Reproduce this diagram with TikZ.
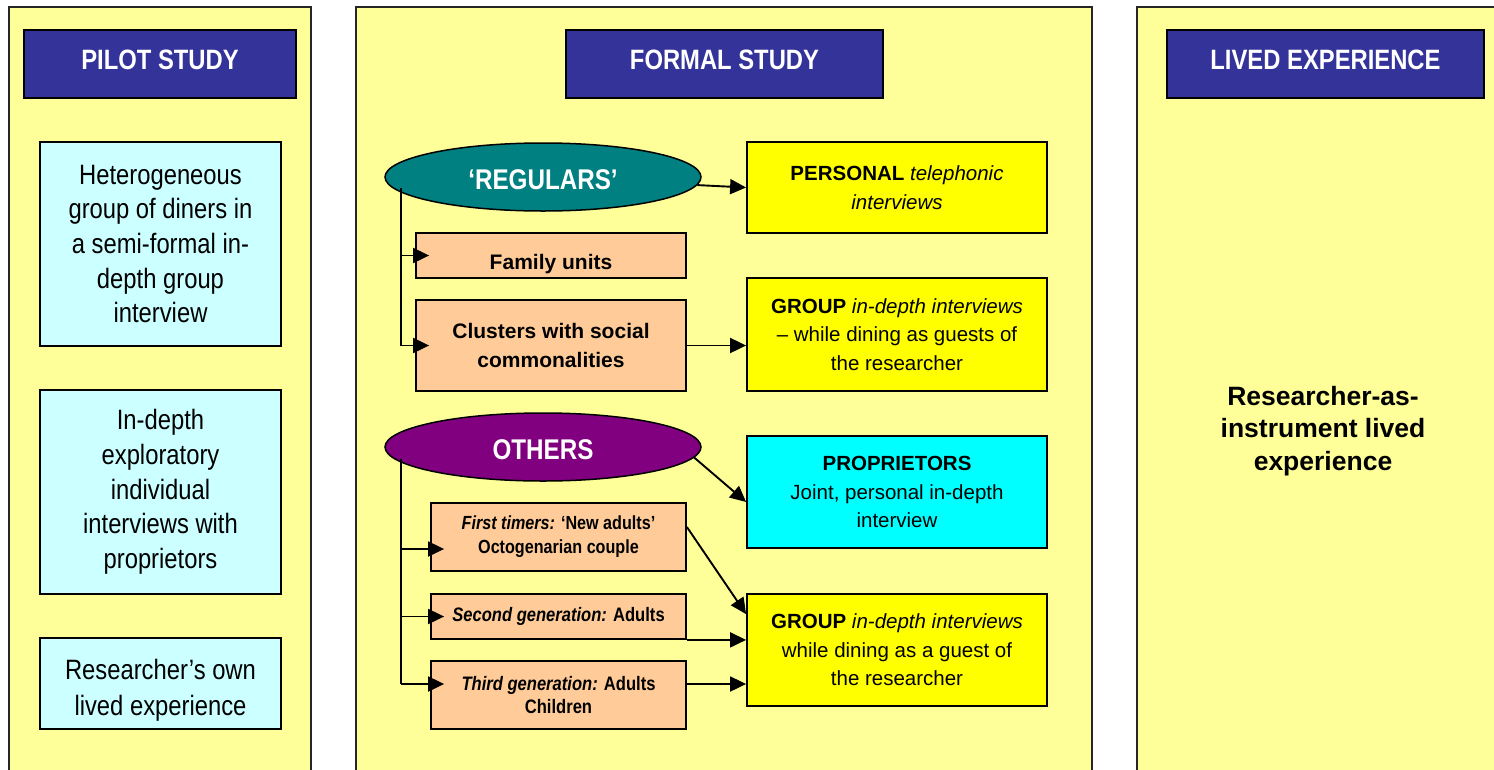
\documentclass[tikz,border=0pt]{standalone}
\usepackage{fontspec}
\setmainfont{Liberation Sans}
\newfontfamily\narrowfont{Liberation Sans}[FakeStretch=0.85]
\usetikzlibrary{shapes.geometric,arrows.meta,calc}

\definecolor{panelfill}{HTML}{FFFF99}
\definecolor{headblue}{HTML}{333399}
\definecolor{paleblue}{HTML}{CCFFFF}
\definecolor{tealfill}{HTML}{008080}
\definecolor{purplefill}{HTML}{800080}
\definecolor{peach}{HTML}{FFCC99}
\definecolor{brightyellow}{HTML}{FFFF00}
\definecolor{brightcyan}{HTML}{00FFFF}

\begin{document}
\begin{tikzpicture}[x=1pt,y=-1pt,
  panel/.style={draw=black!85,line width=1.5pt,fill=panelfill},
  header/.style={draw=black,line width=1.5pt,fill=headblue,text=white,
    font=\narrowfont\bfseries\fontsize{28}{34}\selectfont,text depth=8pt,
    minimum width=#1,minimum height=68pt,inner sep=0pt},
  pilotbox/.style={draw=black,line width=1.8pt,fill=paleblue,align=center,
    font=\narrowfont\fontsize{28}{34.7}\selectfont,
    minimum width=241pt,minimum height=#1,inner sep=0pt},
  group/.style={ellipse,draw=black,line width=1.5pt,fill=#1,text=white,
    font=\narrowfont\bfseries\fontsize{28.5}{34}\selectfont,
    minimum width=316pt,minimum height=68pt,inner sep=0pt},
  unitbox/.style={draw=black,line width=1.8pt,fill=peach,align=center,
    minimum width=#1,inner sep=0pt},
  methodbox/.style={draw=black,line width=1.8pt,fill=#1,align=center,
    font=\fontsize{20.5}{28.5}\selectfont,
    minimum width=300pt,inner sep=0pt},
  arr/.style={line width=1.9pt,-{Triangle[length=16pt,width=15pt]}},
  stem/.style={line width=1.9pt}]

% page and column panels
\useasboundingbox (0,0) rectangle (1494,769);
\fill[white] (0,0) rectangle (1494,769);
\draw[panel] (9,7) rectangle (311,800);
\draw[panel] (356,7) rectangle (1092,800);
\draw[panel] (1137,7) rectangle (1520,800);

% column headers
\node[header=272pt] (hpilot) at (160,64) {PILOT STUDY};
\node[header=317pt] (hformal) at (724.5,64) {FORMAL STUDY};
\node[header=317pt] (hlived) at (1325.5,64) {LIVED EXPERIENCE};

% pilot study
\node[pilotbox=204pt] (p1) at (160.5,244) {Heterogeneous\\group of diners in\\a semi-formal in-\\depth group\\interview};
\node[pilotbox=204pt] (p2) at (160.5,492) {In-depth\\exploratory\\individual\\interviews with\\proprietors};
\node[pilotbox=91pt] (p3) at (160.5,683.5) {\raisebox{-7pt}[\height][\depth]{\begin{tabular}{@{}c@{}}Researcher’s own\\[0.5pt]lived experience\end{tabular}}};

% formal study: regulars
\node[group=tealfill] (reg) at (543,177) {\raisebox{-3pt}[\height][\depth]{‘REGULARS’}};
\node[unitbox=270pt,minimum height=45pt,text height=27pt,text depth=0pt,
  font=\bfseries\fontsize{21}{29}\selectfont] (fam) at (551,255.5) {Family units};
\node[unitbox=270pt,minimum height=91pt,
  font=\bfseries\fontsize{21}{29}\selectfont] (clus) at (551,345.5) {Clusters with social\\commonalities};
\node[methodbox=brightyellow,minimum height=91pt] (pers) at (897,187.5)
  {\textbf{PERSONAL} \textit{telephonic}\\\textit{interviews}};
\node[methodbox=brightyellow,minimum height=113pt] (grp1) at (897,334.5)
  {\textbf{GROUP} \textit{in-depth interviews}\\\textendash{} while dining as guests of\\the researcher};

% formal study: others
\node[group=purplefill] (oth) at (543,447) {\raisebox{-3pt}[\height][\depth]{OTHERS}};
\node[unitbox=255pt,minimum height=68pt,
  font=\narrowfont\bfseries\fontsize{19}{24}\selectfont] (first) at (558.5,537)
  {\textit{First timers:} ‘New adults’\\Octogenarian couple};
\node[unitbox=255pt,minimum height=45pt,
  font=\narrowfont\bfseries\fontsize{19.5}{24}\selectfont] (second) at (558.5,616.5)
  {\textit{Second generation:} Adults};
\node[unitbox=255pt,minimum height=68pt,
  font=\narrowfont\bfseries\fontsize{19.5}{23.5}\selectfont] (third) at (558.5,695)
  {\textit{Third generation:} Adults\\Children};
\node[methodbox=brightcyan,minimum height=112pt] (prop) at (897,492)
  {\textbf{PROPRIETORS}\\Joint, personal in-depth\\interview};
\node[methodbox=brightyellow,minimum height=112pt] (grp2) at (897,650)
  {\textbf{GROUP} \textit{in-depth interviews}\\while dining as a guest of\\the researcher};

% lived experience
\node[align=center,font=\bfseries\fontsize{26.5}{32.5}\selectfont] (lived) at (1323,431)
  {Researcher-as-\\instrument lived\\experience};

% connectors: regulars
\coordinate (regstem) at (401,188);
\draw[stem] (regstem) -- (regstem |- clus.west);
\draw[arr] (regstem |- fam.west) -- ($(fam.west)+(14,0)$);
\draw[arr] (regstem |- clus.west) -- ($(clus.west)+(14,0)$);
\draw[arr] (reg.-3.8) -- (pers.west);
\draw[arr] (clus.east) -- (clus.east -| grp1.west);

% connectors: others
\coordinate (othstem) at (401,459);
\coordinate (firstin) at ($(first.west)+(0,12)$);
\coordinate (thirdin) at ($(third.west)+(0,-11)$);
\coordinate (thirdout) at ($(third.east)+(0,-11)$);
\draw[stem] (othstem) -- (othstem |- thirdin);
\draw[arr] (othstem |- firstin) -- ($(firstin)+(14,0)$);
\draw[arr] (othstem |- second.west) -- ($(second.west)+(14,0)$);
\draw[arr] (othstem |- thirdin) -- ($(thirdin)+(14,0)$);
\draw[arr] (oth.-4) -- ($(prop.west)+(0,10)$);
\draw[arr] ($(first.east)+(0,-10)$) -- ($(grp2.north west)+(0,21)$);
\draw[arr] (second.south east) -- (second.south east -| grp2.west);
\draw[arr] (thirdout) -- (thirdout -| grp2.west);

\end{tikzpicture}
\end{document}
